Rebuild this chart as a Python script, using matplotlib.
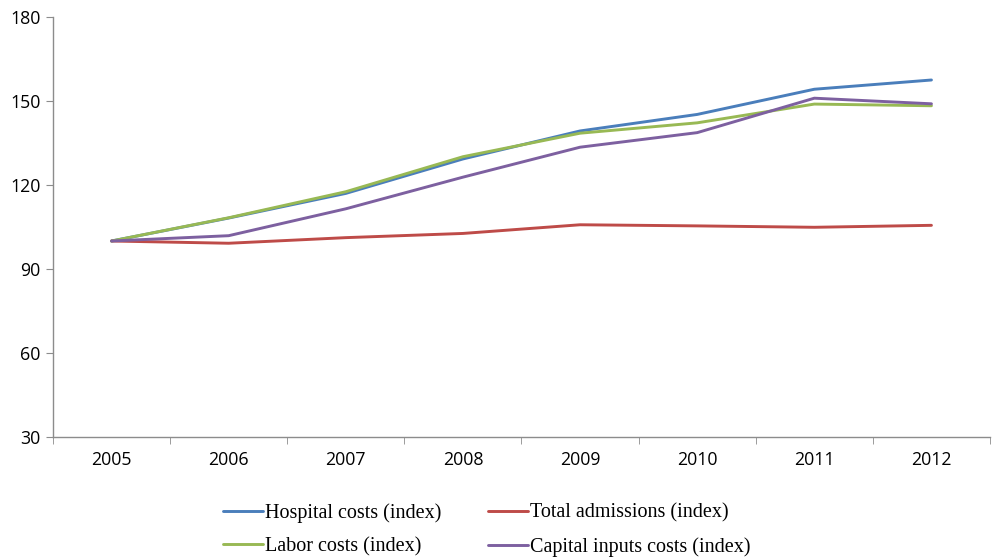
import matplotlib
matplotlib.use("Agg")
import matplotlib.pyplot as plt
import numpy as np

years = ["2005", "2006", "2007", "2008", "2009", "2010", "2011", "2012"]
hospital_costs = [100, 108.2, 117.0, 129.3, 139.3, 145.2, 154.2, 157.5]
total_admissions = [100, 99.2, 101.2, 102.7, 105.8, 105.4, 104.9, 105.6]
labor_costs = [100, 108.3, 117.6, 130.1, 138.5, 142.2, 148.9, 148.3]
capital_costs = [100, 101.9, 111.5, 122.8, 133.5, 138.7, 151.0, 149.0]

series = [
    ("Hospital costs (index)", hospital_costs, "#4A7EBB"),
    ("Total admissions (index)", total_admissions, "#BE4B48"),
    ("Labor costs (index)", labor_costs, "#98B954"),
    ("Capital inputs costs (index)", capital_costs, "#7D60A0"),
]

fig = plt.figure(figsize=(9.92, 5.57), dpi=100)
ax = fig.add_axes([0.0534, 0.2154, 0.9446, 0.7541])

x = np.arange(len(years))
handles = []
for label, vals, color in series:
    (h,) = ax.plot(x, vals, color=color, lw=2.1, label=label, solid_capstyle="round")
    handles.append(h)

ax.set_xlim(-0.5, len(years) - 0.5)
ax.set_ylim(30, 180)
ax.set_yticks([30, 60, 90, 120, 150, 180])
ax.set_xticks(x)
ax.set_xticklabels(years)
ax.set_xticks(np.arange(-0.5, len(years)), minor=True)

for side in ("top", "right"):
    ax.spines[side].set_visible(False)
for side in ("left", "bottom"):
    ax.spines[side].set_color("#8c8c8c")
    ax.spines[side].set_linewidth(1.0)

ax.tick_params(axis="y", which="major", length=5, color="#8c8c8c", labelsize=12.8, pad=4)
ax.tick_params(axis="x", which="major", length=0, labelsize=12.8, pad=10)
ax.tick_params(axis="x", which="minor", length=5, color="#8c8c8c")
for lab in ax.get_xticklabels() + ax.get_yticklabels():
    lab.set_fontfamily("Open Sans")

# legend in two columns below the plot
order = [0, 2, 1, 3]
leg = fig.legend(
    [handles[i] for i in order],
    [series[i][0] for i in order],
    loc="upper left",
    bbox_to_anchor=(223 / 992, 1 - 503 / 557),
    ncol=2,
    frameon=False,
    borderpad=0,
    borderaxespad=0,
    prop={"family": "Liberation Serif", "size": 14.5},
    handlelength=2.0,
    handletextpad=0.1,
    columnspacing=2.3,
    labelspacing=0.7,
)

fig.savefig("out.png", dpi=100)
